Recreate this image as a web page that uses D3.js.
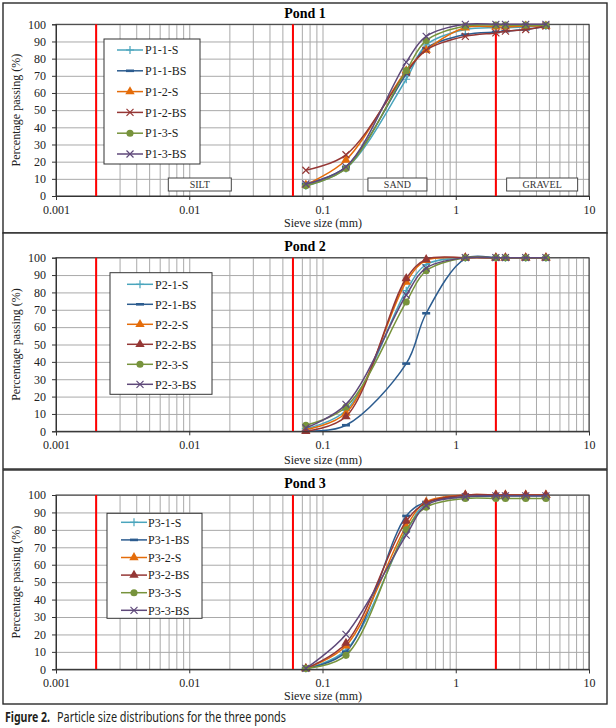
<!DOCTYPE html>
<html>
<head>
<meta charset="utf-8">
<title>Particle size distributions</title>
<style>
  body { margin: 0; background: #fff; }
</style>
</head>
<body>
<svg id="container" width="616" height="728" font-family="'Liberation Serif', 'Times New Roman', serif"></svg>
<script src="https://d3js.org/d3.v7.min.js"></script>
<script>
// sieve sizes in mm, the same for every sample
let sieveSizes = [0.075, 0.15, 0.425, 0.6, 1.18, 2, 2.36, 3.35, 4.75]

let pond1Names = ["P1-1-S", "P1-1-BS", "P1-2-S", "P1-2-BS", "P1-3-S", "P1-3-BS"]
let pond1Values = [
    [6, 16, 68, 88, 97, 98, 98, 98.5, 99],
    [7, 17, 71, 86, 94, 95.5, 96, 97, 98.5],
    [6.5, 21, 73, 85, 98, 98.5, 98.5, 99, 99],
    [15, 24, 72, 85, 93, 95, 96, 97, 99],
    [6, 16, 73, 90.5, 99, 99.5, 99.5, 99.5, 99.5],
    [7, 17, 78, 93, 100, 100, 100, 100, 100]
]
let pond1Markers = ["plus", "dash", "triangle", "x", "circle", "x"]

let pond2Names = ["P2-1-S", "P2-1-BS", "P2-2-S", "P2-2-BS", "P2-3-S", "P2-3-BS"]
let pond2Values = [
    [1.5, 12, 81, 96, 100, 100, 100, 100, 100],
    [0, 3.5, 39, 68, 99.5, 100, 100, 100, 100],
    [1, 10.5, 86, 98.5, 100, 100, 100, 100, 100],
    [0, 8.5, 88, 99, 100, 100, 100, 100, 100],
    [3.5, 14, 74.5, 92.5, 100, 100, 100, 100, 100],
    [2, 15.5, 78.5, 94, 100, 100, 100, 100, 100]
]
let pond2Markers = ["plus", "dash", "triangle", "triangle", "circle", "x"]

let pond3Names = ["P3-1-S", "P3-1-BS", "P3-2-S", "P3-2-BS", "P3-3-S", "P3-3-BS"]
let pond3Values = [
    [0.5, 11, 79, 95, 99, 99.5, 99.5, 99.5, 99.5],
    [0.5, 10, 88, 96, 99, 99.5, 99.5, 99.5, 99.5],
    [0.5, 13.5, 82, 96, 100, 100, 100, 100, 100],
    [0.5, 15, 85, 95.5, 100, 100, 100, 100, 100],
    [0.5, 8, 80, 93, 98, 98, 98, 98, 98],
    [0.5, 20, 77, 94, 99, 99.5, 99.5, 99.5, 99.5]
]
let pond3Markers = ["plus", "dash", "triangle", "triangle", "circle", "x"]

let seriesColors = ["#4aa5bd", "#2c5c8f", "#e46c0a", "#953735", "#77933c", "#5f497a"]

let xTickValues = [0.001, 0.01, 0.1, 1, 10]
let yTickValues = [0, 10, 20, 30, 40, 50, 60, 70, 80, 90, 100]
let boundaries = [0.002, 0.06, 2]
let zoneNames = ["SILT", "SAND", "GRAVEL"]
let zoneCentres = [0.012, 0.365, 4.45]
let zoneWidths = [63, 59, 71]

let svg = d3.select("#container")

// layout of the three stacked panels
let panels = [
    { title: "Pond 1", names: pond1Names, values: pond1Values, markers: pond1Markers,
      frameTop: 3, frameBottom: 233, top: 24.3, bottom: 196, titleY: 18, xTitleDy: 31,
      legend: { x: 104, y: 39, w: 96, h: 125, first: 11, step: 20.8, line0: 13, line1: 39, text: 41 }, zones: true },
    { title: "Pond 2", names: pond2Names, values: pond2Values, markers: pond2Markers,
      frameTop: 233, frameBottom: 469, top: 257.7, bottom: 431.3, titleY: 251, xTitleDy: 33,
      legend: { x: 110, y: 272.7, w: 102, h: 121.6, first: 11.6, step: 20, line0: 17, line1: 43, text: 45 }, zones: false },
    { title: "Pond 3", names: pond3Names, values: pond3Values, markers: pond3Markers,
      frameTop: 470, frameBottom: 704, top: 495, bottom: 669.3, titleY: 488, xTitleDy: 31,
      legend: { x: 107, y: 513.3, w: 95, h: 105, first: 9, step: 17.6, line0: 14, line1: 40, text: 41 }, zones: false }
]

function drawMarker(sel, kind, color) {
    if (kind == "triangle") {
        sel.append("path").attr("d", d3.symbol(d3.symbolTriangle, 38)()).attr("fill", color)
    } else if (kind == "circle") {
        sel.append("path").attr("d", d3.symbol(d3.symbolCircle, 40)()).attr("fill", color)
    } else if (kind == "plus") {
        sel.append("path").attr("d", "M-4,0H4M0,-4V4").attr("stroke", color).attr("stroke-width", 1.2)
    } else if (kind == "x") {
        sel.append("path").attr("d", "M-3.5,-3.5L3.5,3.5M-3.5,3.5L3.5,-3.5").attr("stroke", color).attr("stroke-width", 1.2)
    } else if (kind == "dash") {
        sel.append("rect").attr("x", -4).attr("y", -1.3).attr("width", 8).attr("height", 2.6).attr("fill", color)
    }
}

function drawPond(p) {
    let g = svg.append("g")
    let x = d3.scaleLog().domain([0.001, 10]).range([56, 589])
    let y = d3.scaleLinear().domain([0, 100]).range([p.bottom, p.top])
    let h = p.bottom - p.top

    g.append("rect")
        .attr("x", 3).attr("y", p.frameTop)
        .attr("width", 604).attr("height", p.frameBottom - p.frameTop)
        .attr("fill", "white").attr("stroke", "#2a2a2a").attr("stroke-width", 1.4)

    // vertical grid at every log step
    let vGrid = g.append("g")
        .attr("transform", `translate(0,${p.bottom})`)
        .call(d3.axisBottom(x).tickValues(x.ticks()).tickSize(-h).tickFormat(""))
    vGrid.select(".domain").remove()
    vGrid.selectAll("line").attr("stroke", "#a9a9a9")

    let hGrid = g.append("g")
        .attr("transform", "translate(56,0)")
        .call(d3.axisLeft(y).tickValues(yTickValues).tickSize(-533).tickFormat(""))
    hGrid.select(".domain").remove()
    hGrid.selectAll("line").attr("stroke", "#a9a9a9")

    g.append("rect")
        .attr("x", 56).attr("y", p.top).attr("width", 533).attr("height", h)
        .attr("fill", "none").attr("stroke", "#333")

    g.selectAll(".boundary")
        .data(boundaries)
        .enter()
        .append("line")
        .attr("x1", d => x(d)).attr("x2", d => x(d))
        .attr("y1", p.top).attr("y2", p.bottom)
        .attr("stroke", "#ff0000").attr("stroke-width", 2)

    if (p.zones) {
        let z = g.selectAll(".zone")
            .data(zoneNames)
            .enter()
            .append("g")
            .attr("transform", (d, i) => `translate(${x(zoneCentres[i])},${p.bottom - 11.5})`)
        z.append("rect")
            .attr("x", (d, i) => -zoneWidths[i] / 2).attr("y", -6.5)
            .attr("width", (d, i) => zoneWidths[i]).attr("height", 13)
            .attr("fill", "white").attr("stroke", "#444")
        z.append("text")
            .attr("text-anchor", "middle").attr("dy", "0.35em")
            .attr("font-size", 10).attr("fill", "#333")
            .text(d => d)
    }

    let line = d3.line()
        .x(d => x(d[0]))
        .y(d => y(d[1]))
        .curve(d3.curveCatmullRom.alpha(0.5))

    p.values.forEach((vals, i) => {
        let pts = sieveSizes.map((s, j) => [s, vals[j]])
        g.append("path")
            .attr("d", line(pts))
            .attr("fill", "none")
            .attr("stroke", seriesColors[i])
            .attr("stroke-width", 1.5)
        pts.forEach(pt => {
            let m = g.append("g").attr("transform", `translate(${x(pt[0])},${y(pt[1])})`)
            drawMarker(m, p.markers[i], seriesColors[i])
        })
    })

    // axes
    let yAxis = g.append("g")
        .attr("transform", "translate(56,0)")
        .call(d3.axisLeft(y).tickValues(yTickValues).tickSize(4).tickPadding(6))
    let xAxis = g.append("g")
        .attr("transform", `translate(0,${p.bottom})`)
        .call(d3.axisBottom(x).tickValues(xTickValues).tickSize(4).tickPadding(5).tickFormat(d => String(d)))
    ;[yAxis, xAxis].forEach(a => {
        a.attr("font-family", null)
         .attr("font-size", 12)
        a.selectAll(".domain").attr("stroke", "#333")
        a.selectAll("line").attr("stroke", "#333")
        a.selectAll("text").attr("fill", "#222")
    })

    g.append("text")
        .attr("x", 305).attr("y", p.titleY)
        .attr("text-anchor", "middle")
        .attr("font-size", 14).attr("font-weight", "bold")
        .text(p.title)

    g.append("text")
        .attr("x", 323).attr("y", p.bottom + p.xTitleDy)
        .attr("text-anchor", "middle").attr("font-size", 12).attr("fill", "#222")
        .text("Sieve size (mm)")

    g.append("text")
        .attr("transform", `translate(20,${(p.top + p.bottom) / 2}) rotate(-90)`)
        .attr("text-anchor", "middle").attr("font-size", 12).attr("fill", "#222")
        .text("Percentage passing (%)")

    // legend
    let L = p.legend
    let lg = g.append("g").attr("transform", `translate(${L.x},${L.y})`)
    lg.append("rect")
        .attr("width", L.w).attr("height", L.h)
        .attr("fill", "white").attr("stroke", "#333")
    let item = lg.selectAll(".item")
        .data(p.names)
        .enter()
        .append("g")
        .attr("transform", (d, i) => `translate(0,${L.first + i * L.step})`)
    item.append("line")
        .attr("x1", L.line0).attr("x2", L.line1)
        .attr("stroke", (d, i) => seriesColors[i]).attr("stroke-width", 1.5)
    item.each(function (d, i) {
        let m = d3.select(this).append("g").attr("transform", `translate(${(L.line0 + L.line1) / 2},0)`)
        drawMarker(m, p.markers[i], seriesColors[i])
    })
    item.append("text")
        .attr("x", L.text).attr("dy", "0.35em")
        .attr("font-size", 12).attr("fill", "#222")
        .text(d => d)
}

panels.forEach(drawPond)

// caption under the figure, two separate pieces so the bold part keeps its own width
svg.append("text")
    .attr("x", 5).attr("y", 722)
    .attr("font-family", "'Noto Sans', 'Open Sans', sans-serif")
    .attr("font-size", 13.5).attr("font-weight", "bold").attr("fill", "#231f20")
    .attr("textLength", 45).attr("lengthAdjust", "spacingAndGlyphs")
    .text("Figure 2.")
svg.append("text")
    .attr("x", 57).attr("y", 722)
    .attr("font-family", "'Noto Sans', 'Open Sans', sans-serif")
    .attr("font-size", 13.5).attr("fill", "#231f20")
    .attr("textLength", 229).attr("lengthAdjust", "spacingAndGlyphs")
    .text("Particle size distributions for the three ponds")
</script>
</body>
</html>
